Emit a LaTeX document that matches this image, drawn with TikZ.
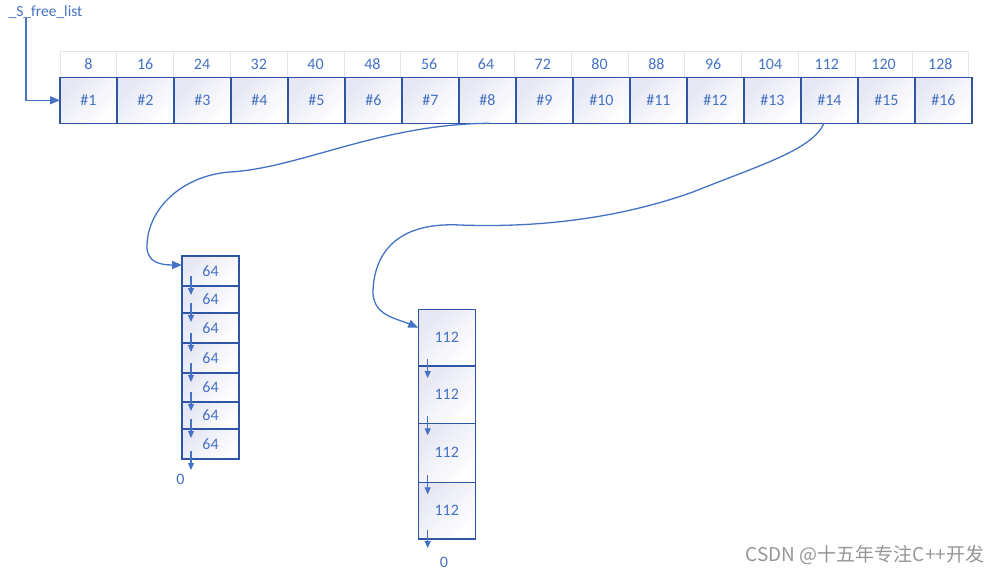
\documentclass[tikz,border=0pt]{standalone}
\usepackage{fontspec}
\setmainfont{Carlito}
\newfontfamily\cjk{Noto Sans CJK SC}
\usetikzlibrary{arrows.meta}
\definecolor{txtblue}{RGB}{68,114,196}
\definecolor{boxblue}{RGB}{47,85,165}
\definecolor{lineblue}{RGB}{68,114,196}
\definecolor{lav}{RGB}{230,230,244}
\definecolor{lblgrey}{RGB}{228,228,238}
\definecolor{wm}{RGB}{150,150,150}
\begin{document}
\begin{tikzpicture}[x=1pt,y=-1pt,
  every node/.style={inner sep=0pt,outer sep=0pt,font=\fontsize{16}{19}\selectfont,text=txtblue},
  lbl/.style={draw=lblgrey,line width=1pt,fill=white,minimum width=56.8pt,minimum height=25.6pt},
  cellbox/.style={draw=boxblue,line width=1.2pt,top color=lav,middle color=white,bottom color=white,shading angle=45,minimum width=57pt},
  conn/.style={draw=lineblue,line width=1.3pt,-{Triangle[length=10pt,width=8pt]}},
  downarr/.style={draw=lineblue,line width=1.2pt,-{Triangle[length=7pt,width=6pt]}},
  wmark/.style={text=wm,font=\cjk\fontsize{19}{22}\selectfont}
]
\useasboundingbox[fill=white] (0,0) rectangle (1005,575);

% header label row
\foreach \i in {1,...,16}{
  \pgfmathsetmacro{\xl}{60+56.8*(\i-0.5)}
  \pgfmathtruncatemacro{\v}{8*\i}
  \node[lbl] (l\i) at (\xl,64.5) {\v};
}
% cells
\foreach \i in {1,...,16}{
  \pgfmathsetmacro{\xc}{60+57*(\i-0.5)}
  \node[cellbox,minimum height=46pt] (c\i) at (\xc,100.3) {\#\i};
}

% free list head
\node[font=\fontsize{15.5}{18}\selectfont] (lst) at (45.5,12) {\_S\_free\_list};
\draw[conn] ([xshift=-19.5pt]lst.south) |- (c1.west);

% 64 list
\node[cellbox,minimum height=30pt] (a1) at (210.5,271) {64};
\node[cellbox,minimum height=27pt] (a2) at (210.5,299.5) {64};
\node[cellbox,minimum height=30pt] (a3) at (210.5,328) {64};
\node[cellbox,minimum height=30pt] (a4) at (210.5,358) {64};
\node[cellbox,minimum height=29pt] (a5) at (210.5,387.5) {64};
\node[cellbox,minimum height=27pt] (a6) at (210.5,415.5) {64};
\node[cellbox,minimum height=30pt] (a7) at (210.5,444) {64};
\node (z1) at (180.5,479) {0};
\foreach \n in {a2,a3,a4,a5,a6,a7}{
  \draw[downarr] ([xshift=-19.5pt,yshift=10pt]\n.north) -- ([xshift=-19.5pt,yshift=-9pt]\n.north);
}
\draw[downarr] ([xshift=-19.5pt,yshift=8pt]a7.south) -- ([xshift=-19.5pt,yshift=-11pt]a7.south);

% 112 list
\node[cellbox,minimum height=56.7pt] (b1) at (446.7,337.6) {112};
\node[cellbox,minimum height=57.3pt] (b2) at (446.7,394.7) {112};
\node[cellbox,minimum height=59pt] (b3) at (446.7,452.8) {112};
\node[cellbox,minimum height=56.7pt] (b4) at (446.7,510.7) {112};
\node (z2) at (444,562) {0};
\foreach \n in {b2,b3,b4}{
  \draw[downarr] ([xshift=-19pt,yshift=7pt]\n.north) -- ([xshift=-19pt,yshift=-12pt]\n.north);
}
\draw[downarr] ([xshift=-19pt,yshift=9pt]b4.south) -- ([xshift=-19pt,yshift=-9pt]b4.south);

% curved connectors
\draw[conn] ([xshift=2pt]c8.south) .. controls (380,124) and (300,168) .. (230,172)
  .. controls (180,176) and (148,210) .. (147,245)
  .. controls (146,262) and (160,265) .. ([yshift=6pt]a1.west);
\draw[conn] ([xshift=-5.5pt]c14.south) .. controls (812,150) and (760,165) .. (693,192)
  .. controls (620,218) and (540,228) .. (460,225)
  .. controls (400,222) and (375,250) .. (373,290)
  .. controls (372,315) and (395,318) .. ([yshift=10pt]b1.west);

% watermark
\node[wmark] (wm) at (865,555) {CSDN @十五年专注C++开发};
\end{tikzpicture}
\end{document}
